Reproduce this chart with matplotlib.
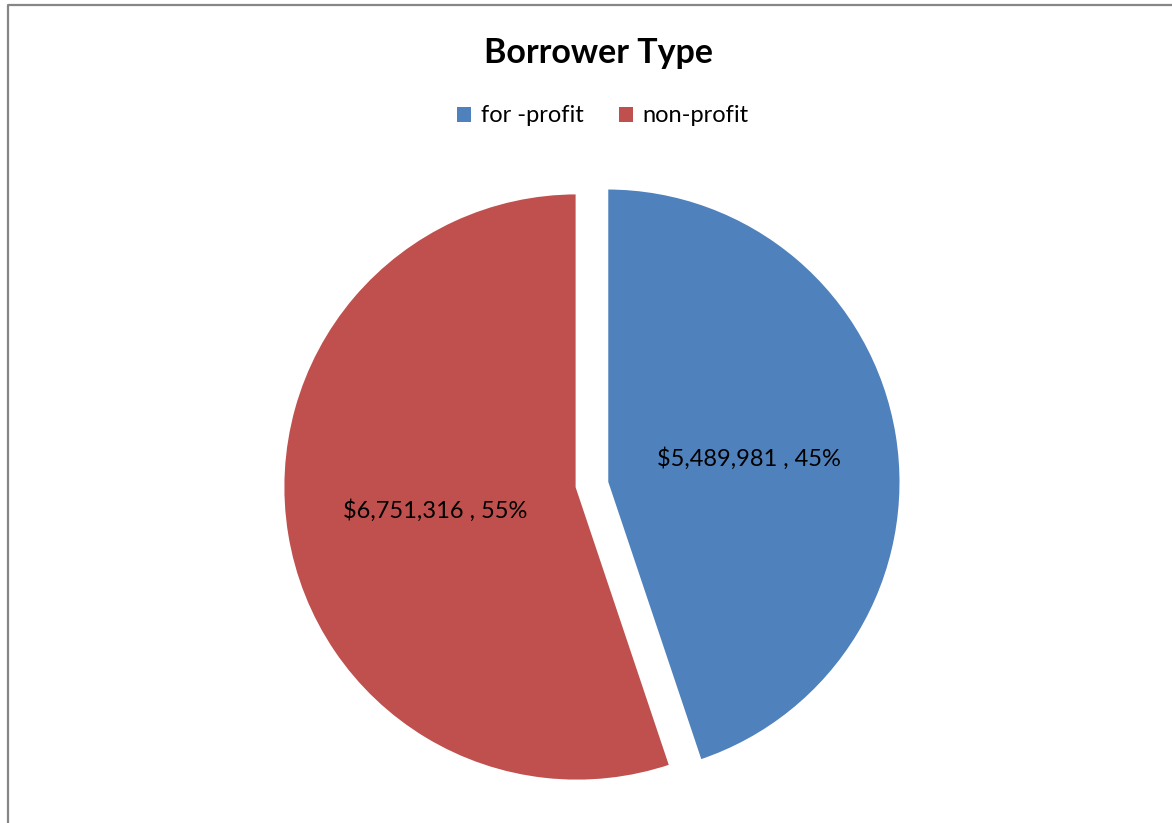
import matplotlib.pyplot as plt
import numpy as np
from matplotlib.lines import Line2D
from matplotlib.patches import Patch

# data
categories = ['for -profit', 'non-profit']
amounts = [5489981, 6751316]
colors = ['#4F81BD', '#C0504D']

plt.rcParams['font.family'] = ['Lato', 'DejaVu Sans']

W, H = 1172, 823
fig = plt.figure(figsize=(W / 100, H / 100), dpi=100)
ax = fig.add_axes([0, 0, 1, 1])

total = sum(amounts)
offsets = [0.103, 0]

wedges = ax.pie(
    amounts, colors=colors, startangle=90, counterclock=False,
    explode=offsets, radius=1,
    wedgeprops={'edgecolor': 'white', 'linewidth': 2},
)[0]

# value labels inside the slices
angle = 90
for amt, off in zip(amounts, offsets):
    span = 360 * amt / total
    mid = np.deg2rad(angle - span / 2)
    angle -= span
    r = off + 0.49
    ax.text(r * np.cos(mid), r * np.sin(mid),
            f'${amt:,} , {100 * amt / total:.0f}%',
            ha='center', va='center', fontsize=17, color='black')

# pie centre at pixel (577, 487), radius 294 px
cx, cy, rad = 577, 487, 294
ax.set_xlim((0 - cx) / rad, (W - cx) / rad)
ax.set_ylim((cy - H) / rad, cy / rad)
ax.axis('off')

fig.text(598 / W, 1 - 53 / H, 'Borrower Type', ha='center', va='center',
         fontsize=24.5, fontweight='bold')

handles = [Patch(facecolor=c, edgecolor='none') for c in colors]
fig.legend(handles, categories, loc='center', bbox_to_anchor=(603 / W, 1 - 116 / H),
           ncol=2, frameon=False, fontsize=17, handlelength=0.6, handleheight=0.6,
           handletextpad=0.4, columnspacing=1.5)

# chart border (left and top visible)
fig.add_artist(Line2D([8 / W, 8 / W, 1], [0, 1 - 5 / H, 1 - 5 / H],
                      transform=fig.transFigure, color='#868686', lw=1.6))

fig.savefig('out.png', dpi=100)
